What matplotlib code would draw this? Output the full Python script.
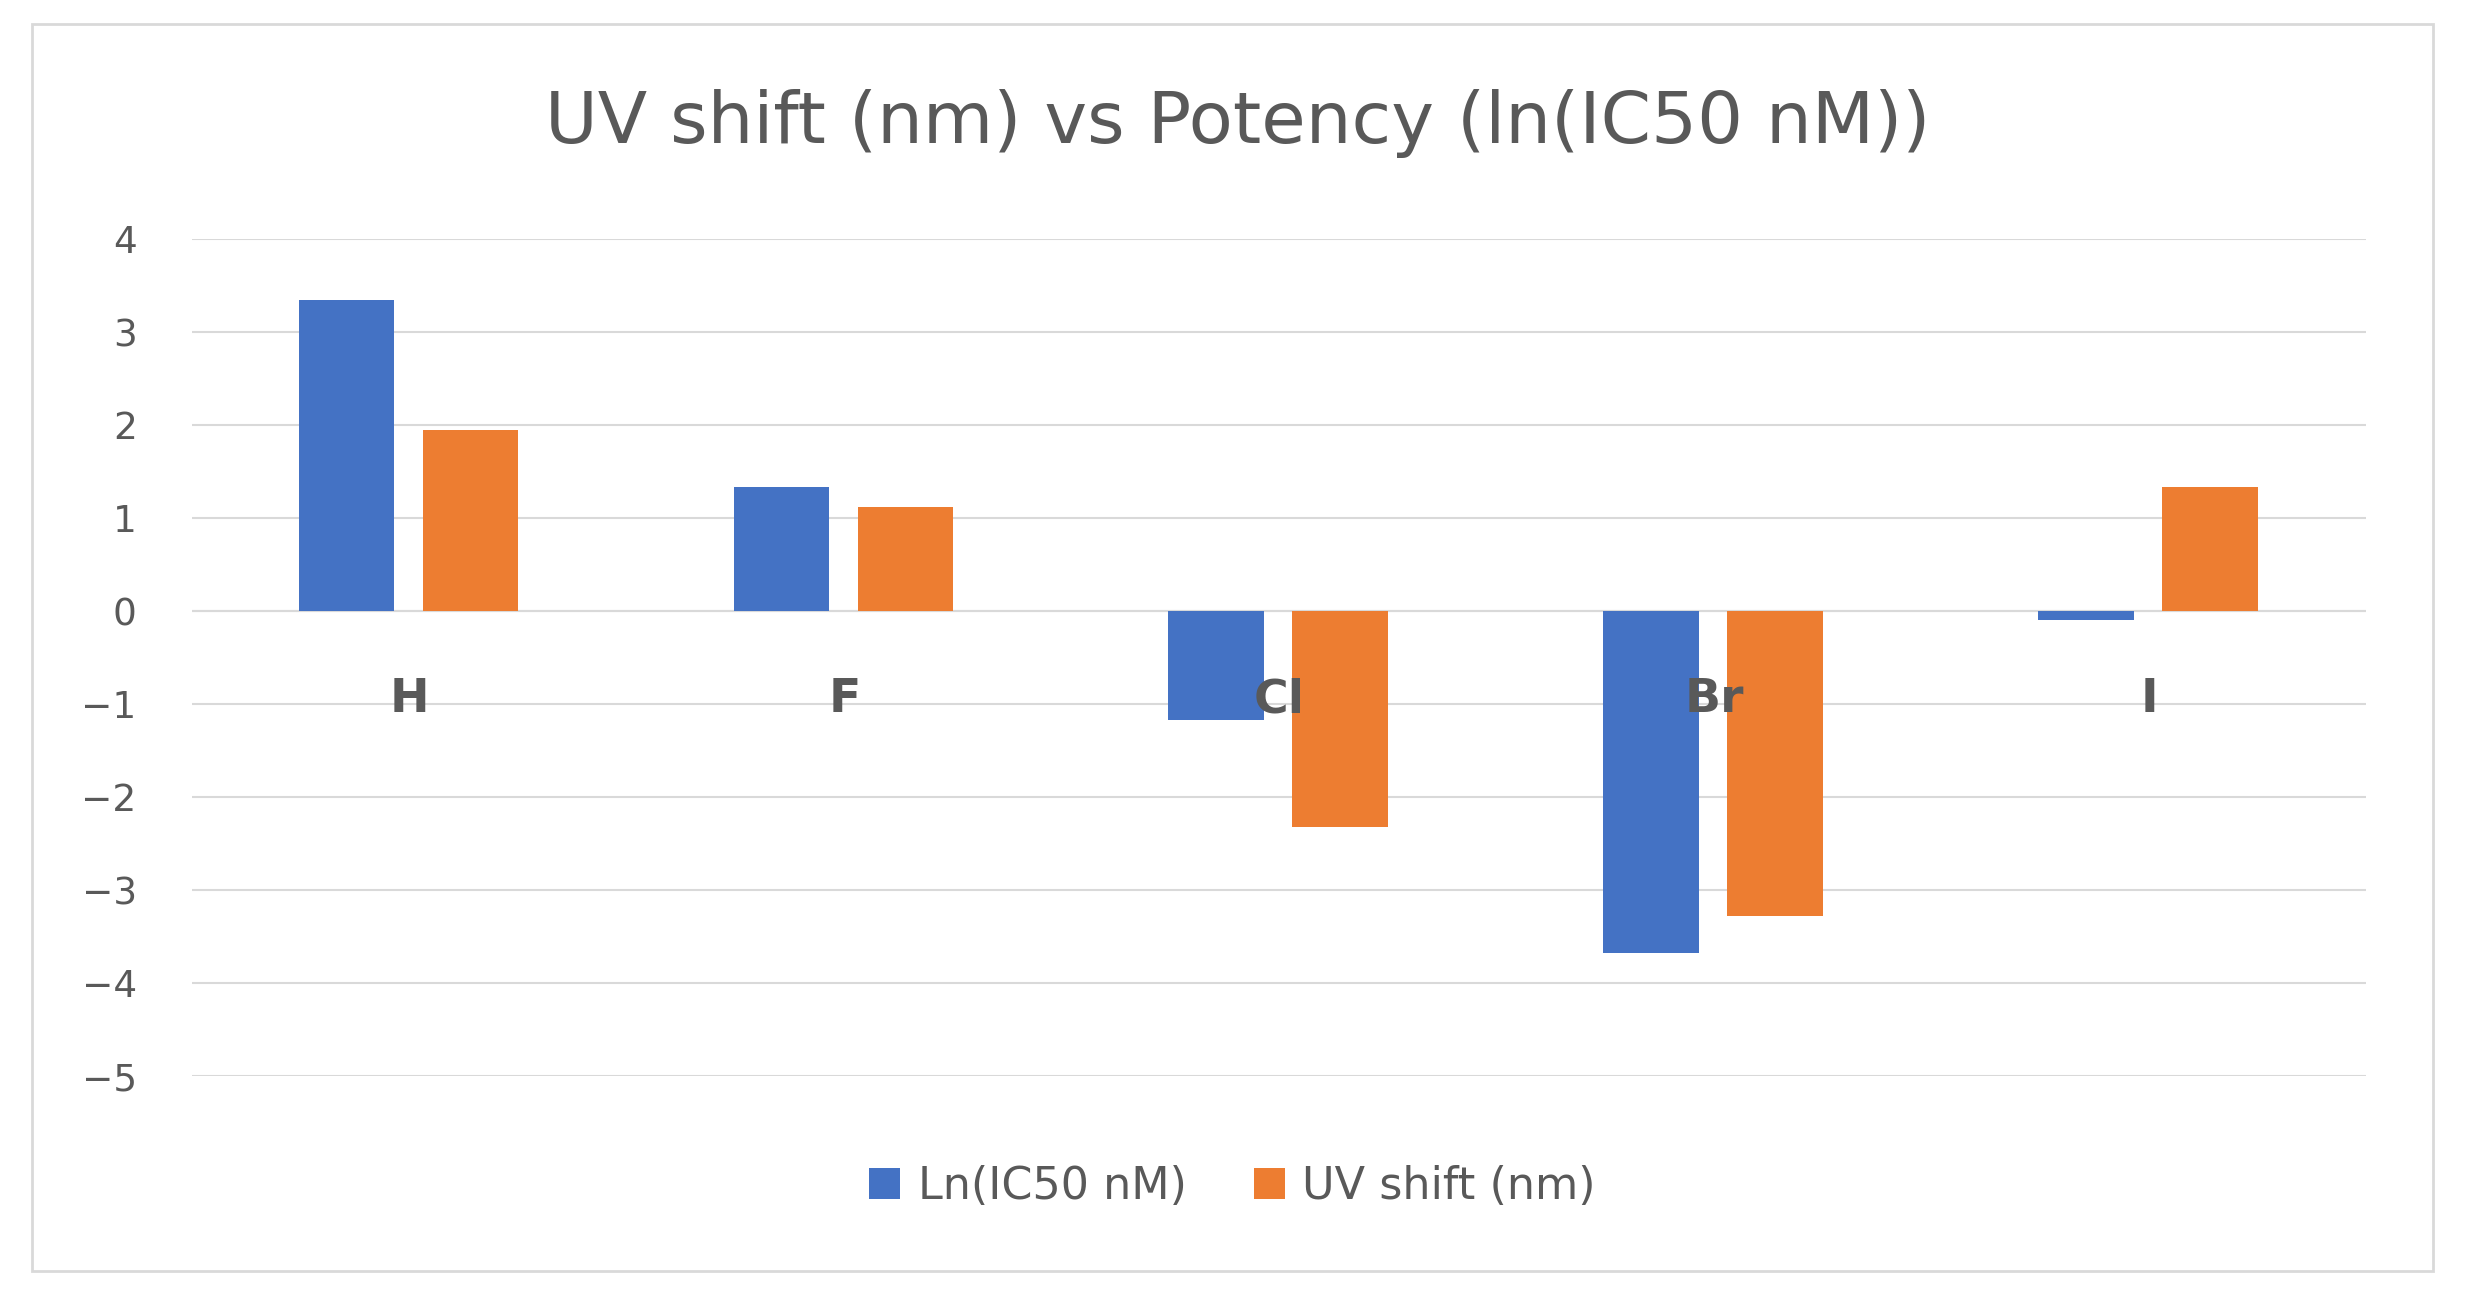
import numpy as np
import matplotlib.pyplot as plt
from matplotlib.patches import Rectangle

categories = ["H", "F", "Cl", "Br", "I"]
ln_ic50 = [3.35, 1.33, -1.17, -3.68, -0.10]
uv_shift = [1.95, 1.12, -2.32, -3.28, 1.33]
yticks = [4, 3, 2, 1, 0, -1, -2, -3, -4, -5]

BLUE = "#4472C4"
ORANGE = "#ED7D31"
GREY = "#595959"

fig = plt.figure(figsize=(24.65, 13.14), dpi=100)
fig.patches.append(Rectangle((0.013, 0.033), 0.974, 0.949, transform=fig.transFigure,
                             fill=False, edgecolor="#D9D9D9", linewidth=2))
ax = fig.add_axes([0.078, 0.181, 0.882, 0.637])

x = np.arange(len(categories))
w = 0.22
ax.bar(x - 0.145, ln_ic50, w, color=BLUE, label="Ln(IC50 nM)", zorder=3)
ax.bar(x + 0.14, uv_shift, w, color=ORANGE, label="UV shift (nm)", zorder=3)

ax.set_xlim(-0.5, len(categories) - 0.5)
ax.set_ylim(-5, 4)
ax.set_yticks(yticks)
ax.set_yticklabels([str(t).replace("-", "\u2212") for t in yticks])
ax.tick_params(axis="y", labelsize=27, labelcolor=GREY, length=0, pad=40)
ax.set_xticks([])
ax.grid(axis="y", color="#D9D9D9", linewidth=1.5, zorder=0)
ax.axhline(0, color="#D9D9D9", linewidth=1.5, zorder=1)
for s in ax.spines.values():
    s.set_visible(False)

for xi, c in zip(x, categories):
    ax.text(xi, -0.95, c, ha="center", va="center", fontsize=34,
            fontweight="bold", color=GREY, zorder=4)

fig.text(0.502, 0.906, "UV shift (nm) vs Potency (ln(IC50 nM))", ha="center",
         va="center", fontsize=52, color=GREY)
fig.legend(loc="center", bbox_to_anchor=(0.5, 0.097), ncol=2, frameon=False,
           fontsize=32, labelcolor=GREY, handlelength=0.7, handleheight=0.7,
           columnspacing=1.5, handletextpad=0.4)

fig.savefig("out.png", facecolor="white")
